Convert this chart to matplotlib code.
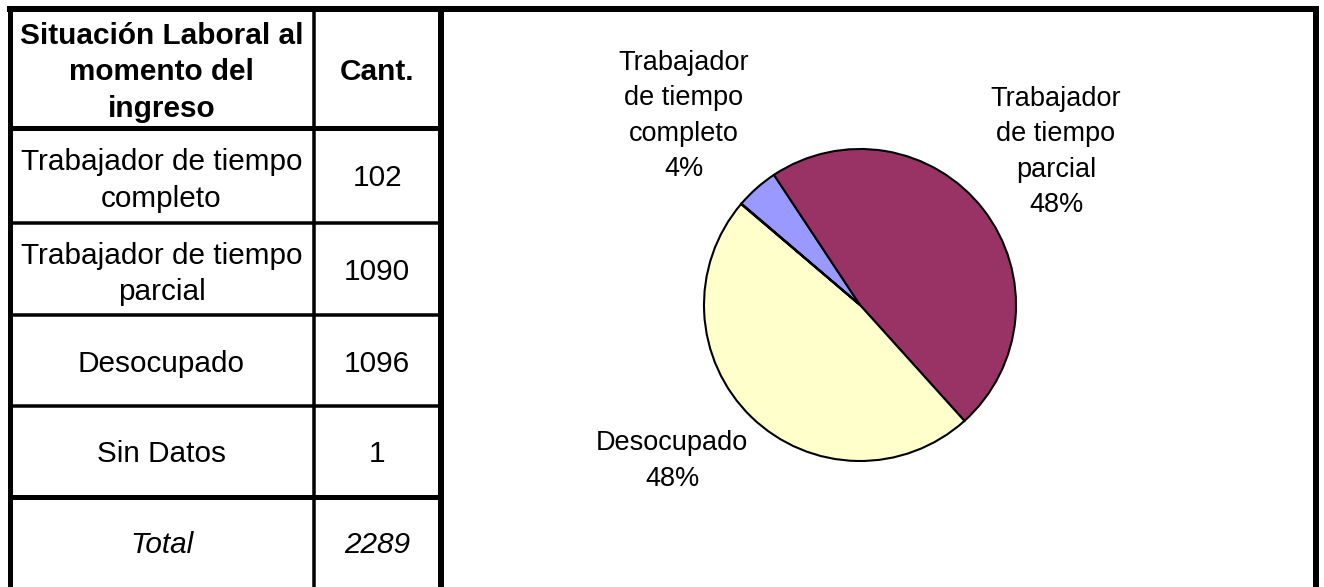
import matplotlib.pyplot as plt

plt.rcParams["font.family"] = ["Liberation Sans", "DejaVu Sans"]

# datos de la tabla / torta
header = ["Situación Laboral al\nmomento del\ningreso", "Cant."]
categorias = ["Trabajador de tiempo\ncompleto", "Trabajador de tiempo\nparcial",
              "Desocupado", "Sin Datos"]
cantidades = [102, 1090, 1096, 1]
etiquetas_torta = ["Trabajador\nde tiempo\ncompleto", "Trabajador\nde tiempo\nparcial",
                   "Desocupado", ""]
colores = ["#9999FF", "#993366", "#FFFFCC", "#CCFFFF"]
total = sum(cantidades)

W, H = 1324, 587
fig = plt.figure(figsize=(W / 100, H / 100), dpi=100)

# capa de fondo en pixeles para la tabla y los bordes
bg = fig.add_axes([0, 0, 1, 1])
bg.set_xlim(0, W)
bg.set_ylim(H, 0)
bg.axis("off")

px = 0.72  # pixeles -> puntos
x_left, x_col, x_tab, x_right = 9.5, 313.5, 441, 1316
y_rows = [9, 128, 223, 315, 406, 497]

bg.plot([x_left - 3, x_right + 3], [y_rows[0]] * 2, color="k", lw=6 * px, solid_capstyle="butt")
for x, w in [(x_left, 5), (x_tab, 6), (x_right, 6)]:
    bg.plot([x, x], [y_rows[0], H], color="k", lw=w * px, solid_capstyle="butt")
bg.plot([x_col, x_col], [y_rows[0], H], color="k", lw=3.5 * px, solid_capstyle="butt")
for i, y in enumerate(y_rows[1:]):
    w = 5 if i in (0, 4) else 3.5
    bg.plot([x_left, x_tab], [y, y], color="k", lw=w * px, solid_capstyle="butt")

fs = 21.4
cx1 = (x_left + x_col) / 2
cx2 = (x_col + x_tab) / 2
ymid = [(y_rows[i] + y_rows[i + 1]) / 2 for i in range(len(y_rows) - 1)] + [(497 + H) / 2]

def dy(s):
    # el texto original queda un poco por debajo del centro de la celda
    return 5 if "\n" in s else 3

bg.text(cx1, ymid[0] + 4, header[0], ha="center", va="center", fontsize=fs,
        fontweight="bold", linespacing=1.4)
bg.text(cx2, ymid[0] + 3, header[1], ha="center", va="center", fontsize=fs, fontweight="bold")
for i, (cat, n) in enumerate(zip(categorias, cantidades)):
    bg.text(cx1, ymid[i + 1] + dy(cat), cat, ha="center", va="center", fontsize=fs,
            linespacing=1.38)
    bg.text(cx2, ymid[i + 1] + 3, str(n), ha="center", va="center", fontsize=fs)
bg.text(cx1, ymid[5] + 3, "Total", ha="center", va="center", fontsize=fs, style="italic")
bg.text(cx2, ymid[5] + 3, str(total), ha="center", va="center", fontsize=fs, style="italic")

# torta
pcx, pcy, r = 860, 305, 156
ax = fig.add_axes([(pcx - r) / W, (H - pcy - r) / H, 2 * r / W, 2 * r / H])
ax.pie(cantidades, colors=colores, startangle=139.5, counterclock=False,
       wedgeprops=dict(edgecolor="black", linewidth=1.5))
ax.set_xlim(-1, 1)
ax.set_ylim(-1, 1)
ax.patch.set_visible(False)

pos_etiquetas = [(684, 116), (1056, 152), (672, 461), None]
for lab, n, pos in zip(etiquetas_torta, cantidades, pos_etiquetas):
    if pos is None:
        continue
    txt = f"{lab}\n{round(100 * n / total)}%"
    ax.text(pos[0], pos[1], txt, ha="center", va="center", fontsize=19.5,
            linespacing=1.46, transform=bg.transData, clip_on=False)

fig.savefig("out.png", dpi=100)
